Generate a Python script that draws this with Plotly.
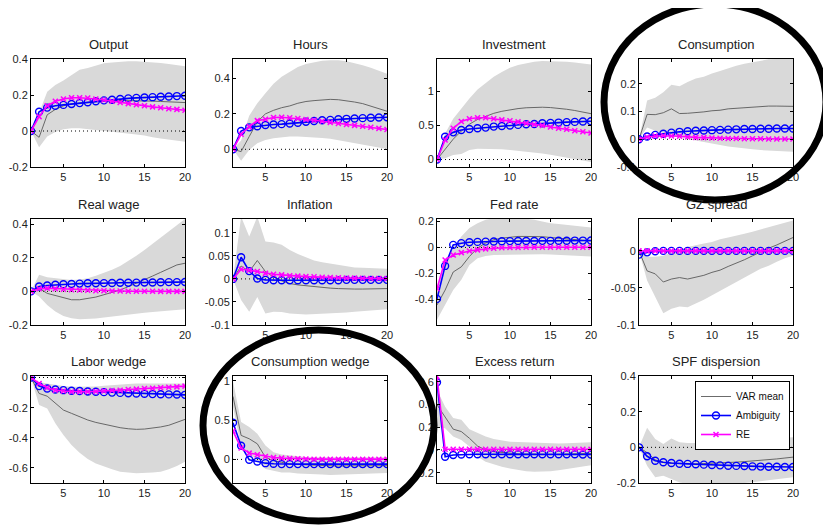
import plotly.graph_objects as go

W, H = 831, 526
OFF = 8  # page body margin offset in the browser
periods = list(range(1, 21))

titles = ["Output", "Hours", "Investment", "Consumption",
          "Real wage", "Inflation", "Fed rate", "GZ spread",
          "Labor wedge", "Consumption wedge", "Excess return", "SPF dispersion"]

# ---- Output
output_var = [0, -0.035, 0.09, 0.12, 0.14, 0.15, 0.155, 0.16, 0.165, 0.168, 0.17, 0.17, 0.17, 0.17, 0.168, 0.166, 0.164, 0.162, 0.16, 0.158]
output_lo = [0, -0.09, -0.03, -0.005, 0.01, 0.015, 0.015, 0.012, 0.005, 0, -0.005, -0.01, -0.015, -0.02, -0.025, -0.035, -0.042, -0.048, -0.055, -0.06]
output_hi = [0, 0.10, 0.218, 0.255, 0.28, 0.31, 0.34, 0.35, 0.365, 0.376, 0.38, 0.385, 0.387, 0.387, 0.385, 0.382, 0.378, 0.372, 0.365, 0.36]
output_amb = [0, 0.107, 0.13, 0.14, 0.145, 0.15, 0.155, 0.16, 0.165, 0.17, 0.174, 0.178, 0.181, 0.184, 0.186, 0.188, 0.19, 0.192, 0.194, 0.196]
output_re = [0, 0.08, 0.14, 0.165, 0.178, 0.185, 0.185, 0.183, 0.178, 0.172, 0.165, 0.158, 0.152, 0.146, 0.14, 0.134, 0.129, 0.124, 0.12, 0.115]

# ---- Hours
hours_var = [0, -0.013, 0.072, 0.156, 0.2, 0.22, 0.235, 0.245, 0.26, 0.27, 0.275, 0.28, 0.282, 0.28, 0.275, 0.267, 0.258, 0.245, 0.232, 0.215]
hours_lo = [0, -0.064, -0.004, 0.034, 0.053, 0.062, 0.068, 0.072, 0.072, 0.072, 0.068, 0.064, 0.06, 0.053, 0.046, 0.038, 0.03, 0.02, 0.01, 0.002]
hours_hi = [0, 0.05, 0.19, 0.26, 0.317, 0.37, 0.41, 0.44, 0.465, 0.482, 0.493, 0.5, 0.503, 0.503, 0.497, 0.488, 0.475, 0.46, 0.444, 0.427]
hours_amb = [0, 0.103, 0.124, 0.13, 0.137, 0.14, 0.142, 0.146, 0.15, 0.156, 0.16, 0.164, 0.166, 0.17, 0.172, 0.174, 0.176, 0.178, 0.18, 0.181]
hours_re = [0, 0.085, 0.128, 0.162, 0.17, 0.18, 0.181, 0.178, 0.174, 0.168, 0.164, 0.158, 0.152, 0.146, 0.14, 0.135, 0.13, 0.124, 0.118, 0.112]

# ---- Investment
inv_var = [0, 0.15, 0.3, 0.42, 0.52, 0.59, 0.64, 0.68, 0.71, 0.735, 0.75, 0.762, 0.768, 0.77, 0.765, 0.755, 0.74, 0.722, 0.7, 0.675]
inv_lo = [0, 0.017, 0.066, 0.08, 0.14, 0.16, 0.16, 0.155, 0.15, 0.14, 0.13, 0.12, 0.105, 0.09, 0.07, 0.05, 0.03, 0.01, -0.012, -0.035]
inv_hi = [0, 0.385, 0.6, 0.755, 0.9, 1.03, 1.13, 1.22, 1.29, 1.35, 1.39, 1.42, 1.44, 1.45, 1.45, 1.448, 1.44, 1.43, 1.41, 1.4]
inv_amb = [0, 0.336, 0.4, 0.435, 0.45, 0.46, 0.47, 0.485, 0.494, 0.5, 0.51, 0.52, 0.524, 0.534, 0.54, 0.544, 0.55, 0.554, 0.56, 0.564]
inv_re = [0, 0.287, 0.46, 0.56, 0.6, 0.615, 0.615, 0.6, 0.584, 0.57, 0.554, 0.534, 0.515, 0.5, 0.48, 0.46, 0.445, 0.425, 0.41, 0.39]

# ---- Consumption
cons_var = [0, 0.09, 0.089, 0.096, 0.11, 0.093, 0.094, 0.096, 0.099, 0.103, 0.105, 0.11, 0.112, 0.115, 0.117, 0.119, 0.12, 0.12, 0.12, 0.119]
cons_lo = [0, 0.043, 0.031, 0.023, 0.017, 0.008, 0.001, -0.004, -0.01, -0.016, -0.021, -0.026, -0.03, -0.033, -0.036, -0.039, -0.041, -0.043, -0.044, -0.045]
cons_hi = [0, 0.14, 0.15, 0.17, 0.197, 0.192, 0.207, 0.22, 0.226, 0.238, 0.247, 0.257, 0.266, 0.273, 0.279, 0.285, 0.289, 0.29, 0.29, 0.29]
cons_amb = [0, 0.01, 0.016, 0.02, 0.024, 0.027, 0.029, 0.031, 0.032, 0.033, 0.034, 0.035, 0.036, 0.037, 0.037, 0.038, 0.038, 0.039, 0.039, 0.039]
cons_re = [0, 0.008, 0.012, 0.013, 0.012, 0.011, 0.008, 0.007, 0.006, 0.005, 0.004, 0.003, 0.003, 0.002, 0.002, 0.002, 0.001, 0.001, 0.001, 0.001]

# ---- Real wage
rw_var = [0, 0.018, -0.012, -0.026, -0.04, -0.05, -0.05, -0.044, -0.034, -0.02, -0.008, 0.008, 0.028, 0.048, 0.068, 0.091, 0.113, 0.137, 0.157, 0.167]
rw_lo = [0, -0.031, -0.081, -0.12, -0.146, -0.16, -0.166, -0.166, -0.162, -0.156, -0.15, -0.144, -0.138, -0.132, -0.127, -0.122, -0.118, -0.114, -0.11, -0.107]
rw_hi = [0, 0.098, 0.084, 0.078, 0.072, 0.068, 0.07, 0.078, 0.092, 0.108, 0.128, 0.151, 0.18, 0.212, 0.246, 0.282, 0.32, 0.355, 0.395, 0.43]
rw_amb = [0, 0.029, 0.035, 0.039, 0.042, 0.044, 0.046, 0.048, 0.048, 0.049, 0.05, 0.051, 0.051, 0.052, 0.053, 0.053, 0.054, 0.055, 0.055, 0.056]
rw_re = [0, 0.015, 0.018, 0.016, 0.012, 0.01, 0.008, 0.006, 0.004, 0.003, 0.002, 0.002, 0.001, 0.001, 0.001, 0.001, 0, 0, 0, 0]

# ---- Inflation
inf_var = [0, 0.028, 0.016, 0.04, 0.016, 0.004, -0.004, -0.01, -0.013, -0.015, -0.017, -0.018, -0.02, -0.021, -0.022, -0.022, -0.022, -0.022, -0.021, -0.021]
inf_lo = [0, -0.046, -0.071, -0.039, -0.075, -0.071, -0.072, -0.075, -0.076, -0.077, -0.077, -0.076, -0.075, -0.074, -0.073, -0.071, -0.07, -0.068, -0.067, -0.066]
inf_hi = [0, 0.135, 0.092, 0.135, 0.081, 0.079, 0.074, 0.063, 0.054, 0.047, 0.04, 0.036, 0.033, 0.03, 0.027, 0.025, 0.024, 0.023, 0.022, 0.022]
inf_amb = [0, 0.047, 0.017, 0.001, -0.002, -0.003, -0.003, -0.003, -0.003, -0.003, -0.003, -0.003, -0.003, -0.003, -0.002, -0.002, -0.002, -0.002, -0.002, -0.002]
inf_re = [0, 0.021, 0.019, 0.016, 0.012, 0.01, 0.0087, 0.007, 0.006, 0.005, 0.0045, 0.0036, 0.003, 0.0025, 0.002, 0.0017, 0.0014, 0.0011, 0.0009, 0.0007]

# ---- Fed rate
fed_var = [-0.445, -0.33, -0.19, -0.15, -0.07, -0.005, 0.034, 0.06, 0.072, 0.08, 0.085, 0.085, 0.085, 0.083, 0.077, 0.072, 0.067, 0.062, 0.057, 0.05]
fed_lo = [-0.56, -0.445, -0.33, -0.25, -0.136, -0.084, -0.066, -0.058, -0.053, -0.053, -0.053, -0.053, -0.053, -0.053, -0.055, -0.058, -0.06, -0.063, -0.066, -0.07]
fed_hi = [-0.33, -0.097, -0.005, 0.085, 0.15, 0.188, 0.214, 0.225, 0.23, 0.23, 0.228, 0.222, 0.214, 0.2, 0.188, 0.182, 0.175, 0.169, 0.163, 0.155]
fed_amb = [-0.398, -0.143, 0.02, 0.033, 0.04, 0.043, 0.045, 0.046, 0.048, 0.049, 0.05, 0.05, 0.05, 0.051, 0.051, 0.052, 0.052, 0.053, 0.053, 0.054]
fed_re = [-0.32, -0.097, -0.058, -0.04, -0.027, -0.019, -0.011, -0.006, -0.003, -0.001, 0, 0.001, 0.001, 0.002, 0.002, 0.002, 0.002, 0.002, 0.002, 0.002]

# ---- GZ spread
gz_var = [0, -0.027, -0.031, -0.042, -0.038, -0.036, -0.038, -0.036, -0.033, -0.029, -0.026, -0.021, -0.017, -0.012, -0.0067, -0.0013, 0.0036, 0.008, 0.013, 0.018]
gz_lo = [0, -0.04, -0.062, -0.084, -0.078, -0.075, -0.076, -0.071, -0.066, -0.06, -0.055, -0.049, -0.042, -0.036, -0.03, -0.024, -0.02, -0.0147, -0.01, -0.0067]
gz_hi = [0, -0.008, -0.008, -0.0067, -0.002, 0.0022, 0.0053, 0.008, 0.01, 0.012, 0.0156, 0.018, 0.02, 0.023, 0.0258, 0.029, 0.032, 0.0356, 0.0387, 0.041]
gz_amb = [-0.005, -0.002, -0.0005, 0, 0, 0, 0, 0, 0, 0, 0, 0, 0, 0, 0, 0, 0, 0, 0, 0]
gz_re = [0, 0, 0, 0, 0, 0, 0, 0, 0, 0, 0, 0, 0, 0, 0, 0, 0, 0, 0, 0]

# ---- Labor wedge
lw_var = [0, -0.106, -0.124, -0.172, -0.216, -0.238, -0.26, -0.282, -0.298, -0.311, -0.322, -0.333, -0.34, -0.344, -0.342, -0.337, -0.328, -0.317, -0.3, -0.278]
lw_lo = [0, -0.183, -0.205, -0.304, -0.382, -0.448, -0.499, -0.541, -0.57, -0.592, -0.609, -0.625, -0.631, -0.636, -0.636, -0.631, -0.625, -0.609, -0.587, -0.559]
lw_hi = [0, -0.029, -0.04, -0.051, -0.057, -0.062, -0.062, -0.062, -0.06, -0.055, -0.05, -0.046, -0.043, -0.04, -0.04, -0.04, -0.04, -0.04, -0.04, -0.04]
lw_amb = [0, -0.057, -0.073, -0.08, -0.084, -0.088, -0.09, -0.093, -0.095, -0.097, -0.1, -0.102, -0.104, -0.106, -0.108, -0.11, -0.111, -0.112, -0.113, -0.115]
lw_re = [0, -0.04, -0.068, -0.084, -0.09, -0.095, -0.095, -0.095, -0.093, -0.09, -0.086, -0.084, -0.08, -0.077, -0.073, -0.071, -0.068, -0.065, -0.062, -0.057]

# ---- Consumption wedge
cw_var = [0.8, 0.305, 0.262, 0.198, 0.027, -0.016, -0.037, -0.058, -0.065, -0.07, -0.075, -0.08, -0.084, -0.084, -0.082, -0.08, -0.08, -0.08, -0.08, -0.08]
cw_lo = [0.67, 0.156, 0.07, -0.016, -0.122, -0.144, -0.165, -0.165, -0.178, -0.183, -0.19, -0.193, -0.197, -0.197, -0.193, -0.19, -0.187, -0.183, -0.178, -0.174]
cw_hi = [0.99, 0.476, 0.412, 0.327, 0.177, 0.091, 0.061, 0.048, 0.035, 0.03, 0.027, 0.027, 0.027, 0.027, 0.027, 0.027, 0.027, 0.027, 0.027, 0.027]
cw_amb = [0.465, 0.174, -0.005, -0.026, -0.048, -0.056, -0.06, -0.06, -0.06, -0.06, -0.06, -0.06, -0.06, -0.06, -0.06, -0.06, -0.06, -0.06, -0.06, -0.06]
cw_re = [0.359, 0.145, 0.08, 0.059, 0.038, 0.025, 0.016, 0.012, 0.008, 0.005, 0.003, 0.003, 0.003, 0.003, 0.003, 0.003, 0.003, 0.003, 0.003, 0.003]

# ---- Excess return
er_var = [0.397, 0.294, 0.183, 0.162, 0.103, 0.035, 0, -0.015, -0.022, -0.03, -0.034, -0.036, -0.038, -0.038, -0.038, -0.037, -0.036, -0.035, -0.033, -0.03]
er_lo = [0.205, 0.19, 0.118, 0.088, 0.03, -0.059, -0.103, -0.127, -0.147, -0.162, -0.177, -0.186, -0.191, -0.191, -0.186, -0.177, -0.168, -0.158, -0.147, -0.135]
er_hi = [0.53, 0.38, 0.28, 0.265, 0.183, 0.147, 0.118, 0.097, 0.082, 0.073, 0.07, 0.067, 0.064, 0.06, 0.058, 0.058, 0.06, 0.064, 0.064, 0.067]
er_amb = [0.594, -0.059, -0.044, -0.04, -0.038, -0.038, -0.038, -0.038, -0.038, -0.038, -0.038, -0.038, -0.038, -0.038, -0.038, -0.038, -0.038, -0.038, -0.039, -0.04]
er_re = [0.645, 0.006, 0.006, 0.006, 0.006, 0.006, 0.006, 0.006, 0.006, 0.006, 0.006, 0.006, 0.006, 0.006, 0.006, 0.006, 0.006, 0.006, 0.006, 0.006]

# ---- SPF dispersion
spf_var = [0, -0.03, -0.07, -0.085, -0.09, -0.092, -0.092, -0.092, -0.091, -0.09, -0.088, -0.086, -0.083, -0.08, -0.077, -0.073, -0.069, -0.065, -0.06, -0.055]
spf_lo = [0, -0.103, -0.168, -0.159, -0.178, -0.197, -0.205, -0.21, -0.21, -0.21, -0.21, -0.208, -0.205, -0.2, -0.196, -0.192, -0.187, -0.18, -0.174, -0.168]
spf_hi = [0, 0.11, 0.047, 0.019, 0.05, 0.028, 0.025, 0.024, 0.025, 0.028, 0.031, 0.034, 0.037, 0.039, 0.041, 0.044, 0.047, 0.05, 0.053, 0.056]
spf_amb = [0, -0.05, -0.075, -0.084, -0.088, -0.092, -0.093, -0.095, -0.097, -0.099, -0.101, -0.103, -0.104, -0.105, -0.107, -0.108, -0.109, -0.109, -0.11, -0.11]
spf_re = None

# y-axis tick values / labels per panel
ytick_vals = [
    [-0.2, 0, 0.2, 0.4], [0, 0.2, 0.4], [0, 0.5, 1], [-0.1, 0, 0.1, 0.2],
    [-0.2, 0, 0.2, 0.4], [-0.1, -0.05, 0, 0.05, 0.1], [-0.4, -0.2, 0, 0.2], [-0.1, -0.05, 0],
    [-0.6, -0.4, -0.2, 0], [0, 0.5, 1], [-0.2, 0, 0.2, 0.4, 0.6], [-0.2, 0, 0.2, 0.4],
]
ytick_text = [
    ["-0.2", "0", "0.2", "0.4"], ["0", "0.2", "0.4"], ["0", "0.5", "1"], ["-0.1", "0", "0.1", "0.2"],
    ["-0.2", "0", "0.2", "0.4"], ["-0.1", "-0.05", "0", "0.05", "0.1"], ["-0.4", "-0.2", "0", "0.2"], ["-0.1", "-0.05", "0"],
    ["-0.6", "-0.4", "-0.2", "0"], ["0", "0.5", "1"], ["-0.2", "0", "0.2", "0.4", "0.6"], ["-0.2", "0", "0.2", "0.4"],
]
y_ranges = [
    [-0.2, 0.4], [-0.1, 0.51], [-0.11, 1.48], [-0.1, 0.29],
    [-0.2, 0.43], [-0.1, 0.13], [-0.6, 0.22], [-0.1, 0.043],
    [-0.7, 0.01], [-0.3, 1.06], [-0.29, 0.65], [-0.2, 0.4],
]
xtick_vals = [5, 10, 15, 20]
xtick_text = ["5", "10", "15", "20"]

panels = [
    (output_lo, output_hi, output_var, output_amb, output_re),
    (hours_lo, hours_hi, hours_var, hours_amb, hours_re),
    (inv_lo, inv_hi, inv_var, inv_amb, inv_re),
    (cons_lo, cons_hi, cons_var, cons_amb, cons_re),
    (rw_lo, rw_hi, rw_var, rw_amb, rw_re),
    (inf_lo, inf_hi, inf_var, inf_amb, inf_re),
    (fed_lo, fed_hi, fed_var, fed_amb, fed_re),
    (gz_lo, gz_hi, gz_var, gz_amb, gz_re),
    (lw_lo, lw_hi, lw_var, lw_amb, lw_re),
    (cw_lo, cw_hi, cw_var, cw_amb, cw_re),
    (er_lo, er_hi, er_var, er_amb, er_re),
    (spf_lo, spf_hi, spf_var, spf_amb, spf_re),
]

# layout geometry (screen pixels)
col_px = [(31, 185), (233, 387), (437, 591), (639, 793)]
row_px = [(59, 167), (219, 325), (376, 483)]


def px_x(p):
    return (p - OFF) / W


def px_y(p):
    return 1 - (p - OFF) / H


FONT = "Arial, Liberation Sans, sans-serif"
BAND = "#d9d9d9"
VARC = "#5a5a5a"
BLUE = "#0000ff"
MAG = "#ff00ff"

fig = go.Figure()
layout = {}
annotations = []

for i, (lo, hi, var, amb, re) in enumerate(panels):
    r, c = divmod(i, 4)
    n = i + 1
    xa = "x" if n == 1 else f"x{n}"
    ya = "y" if n == 1 else f"y{n}"
    xk = "xaxis" if n == 1 else f"xaxis{n}"
    yk = "yaxis" if n == 1 else f"yaxis{n}"
    x0, x1 = col_px[c]
    t0, t1 = row_px[r]
    layout[xk] = dict(
        domain=[px_x(x0), px_x(x1)], anchor=ya, range=[1, 20], automargin=False,
        tickmode="array", tickvals=xtick_vals, ticktext=xtick_text,
        ticks="inside", ticklen=3, tickcolor="black", showline=True,
        linecolor="black", linewidth=1, mirror="ticks", showgrid=False,
        zeroline=False, tickfont=dict(family=FONT, size=11, color="#222"),
    )
    layout[yk] = dict(
        domain=[px_y(t1), px_y(t0)], anchor=xa, range=y_ranges[i], automargin=False,
        tickmode="array", tickvals=ytick_vals[i], ticktext=ytick_text[i],
        ticks="inside", ticklen=3, tickcolor="black", showline=True,
        linecolor="black", linewidth=1, mirror="ticks", showgrid=False,
        zeroline=False, tickfont=dict(family=FONT, size=11, color="#222"),
    )
    # band
    fig.add_trace(go.Scatter(
        x=periods + periods[::-1], y=hi + lo[::-1], fill="toself",
        fillcolor=BAND, line=dict(width=0), mode="lines",
        hoverinfo="skip", showlegend=False, xaxis=xa, yaxis=ya))
    # zero line
    fig.add_trace(go.Scatter(
        x=[1, 20], y=[0, 0], mode="lines",
        line=dict(color="black", width=1, dash="1px,3px"),
        showlegend=False, hoverinfo="skip", xaxis=xa, yaxis=ya))
    # VAR mean
    fig.add_trace(go.Scatter(
        x=periods, y=var, mode="lines", name="VAR mean",
        line=dict(color=VARC, width=0.9),
        showlegend=(i == 11), legendrank=1, xaxis=xa, yaxis=ya))
    # Ambiguity
    fig.add_trace(go.Scatter(
        x=periods, y=amb, mode="lines+markers", name="Ambiguity",
        line=dict(color=BLUE, width=1.6),
        marker=dict(symbol="circle-open", size=7, color=BLUE, line=dict(width=1.4, color=BLUE)),
        showlegend=(i == 11), legendrank=2, xaxis=xa, yaxis=ya))
    # RE
    if re is not None:
        fig.add_trace(go.Scatter(
            x=periods, y=re, mode="lines+markers", name="RE",
            line=dict(color=MAG, width=1.6),
            marker=dict(symbol="x-thin-open", size=5, color=MAG, line=dict(width=1.5, color=MAG)),
            showlegend=(i == 0), legendrank=3, xaxis=xa, yaxis=ya))
    # title
    annotations.append(dict(
        text=titles[i], xref="paper", yref="paper",
        x=(px_x(x0) + px_x(x1)) / 2, y=px_y(t0 - 5), xanchor="center", yanchor="bottom",
        showarrow=False, font=dict(family=FONT, size=13, color="#222")))

shapes = [
    dict(type="circle", xref="paper", yref="paper",
         x0=px_x(604), x1=px_x(826), y0=px_y(200), y1=px_y(4),
         line=dict(color="black", width=7), layer="above"),
    dict(type="circle", xref="paper", yref="paper",
         x0=px_x(203), x1=px_x(434), y0=px_y(521), y1=px_y(330),
         line=dict(color="black", width=7), layer="above"),
]

fig.update_layout(
    width=W, height=H, margin=dict(l=0, r=0, t=0, b=0, autoexpand=False),
    paper_bgcolor="white", plot_bgcolor="white",
    annotations=annotations, shapes=shapes,
    legend=dict(x=px_x(695), y=px_y(381), xanchor="left", yanchor="top",
                bgcolor="white", bordercolor="black", borderwidth=1,
                font=dict(family=FONT, size=10, color="#111"),
                tracegroupgap=0, itemwidth=30),
    **layout,
)

fig.write_html("out.html")
